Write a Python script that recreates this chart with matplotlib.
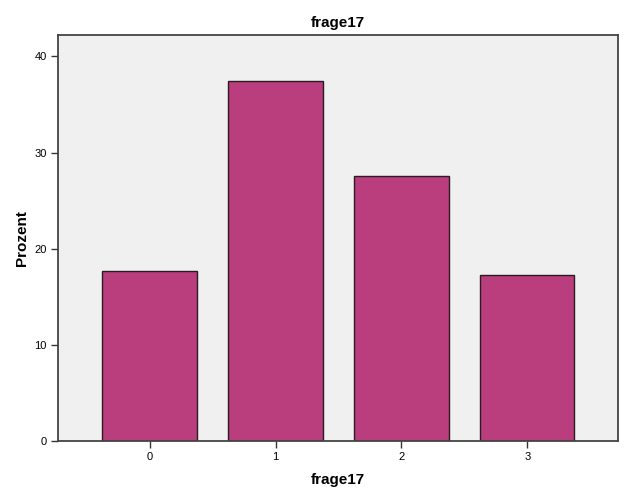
import matplotlib
matplotlib.use("Agg")
import matplotlib.pyplot as plt

categories = ["0", "1", "2", "3"]
percent = [17.7, 37.4, 27.6, 17.3]

plt.rcParams['font.family'] = ['Liberation Sans', 'DejaVu Sans']

fig = plt.figure(figsize=(6.26, 5.01), dpi=100)
ax = fig.add_axes([0.0927, 0.119, 0.8953, 0.811])
ax.set_facecolor('#F0F0F0')
x = list(range(len(categories)))
ax.bar(x, percent, width=0.75, color='#BA3E7D', edgecolor='#2A1A22', linewidth=1.0, zorder=2)
ax.set_xlim(-0.728, 3.725)
ax.set_ylim(0, 42.2)
ax.set_xticks(x)
ax.set_xticklabels(categories)
ax.set_yticks([0, 10, 20, 30, 40])
ax.tick_params(axis='both', labelsize=8, length=5, width=1, color='#333333', pad=3)
for s in ax.spines.values():
    s.set_color('#444444')
    s.set_linewidth(1.3)
ax.set_title('frage17', fontsize=11, fontweight='bold', pad=5.5)
ax.set_xlabel('frage17', fontsize=11, fontweight='bold', labelpad=7.5)
ax.set_ylabel('Prozent', fontsize=11, fontweight='bold', labelpad=4)
fig.savefig('out.png', dpi=100, facecolor='white')
